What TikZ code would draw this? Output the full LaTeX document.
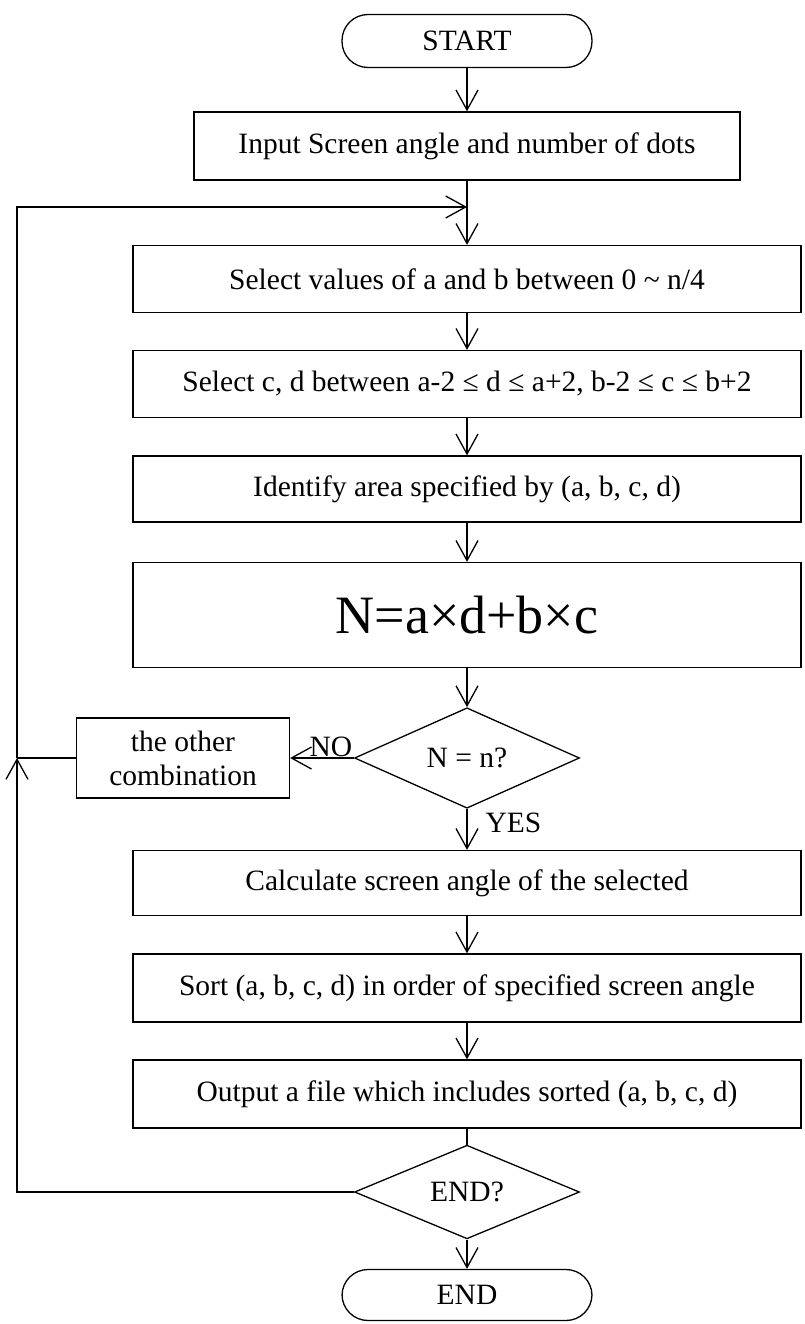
\documentclass[tikz,border=0pt]{standalone}
\usepackage{fontspec}
\setmainfont{Liberation Serif}
\usetikzlibrary{arrows.meta,shapes.geometric}

\begin{document}
\begin{tikzpicture}[x=1pt,y=-1pt, line width=1.3pt,
  font=\fontsize{29.5}{34}\selectfont,
  box/.style={draw, rectangle, inner sep=0pt, minimum height=67pt},
  wide/.style={box, minimum width=668pt},
  term/.style={draw, rectangle, rounded corners=26pt, inner sep=0pt, minimum width=250pt, minimum height=53pt},
  decide/.style={draw, diamond, inner sep=0pt, minimum width=225pt, minimum height=77pt},
  flow/.style={-{Straight Barb[length=20pt,width=22pt]}}]
\useasboundingbox (0,0) rectangle (804,1324);
\node[term] (start) at (467,41) {START};
\node[box, minimum width=546pt, minimum height=68pt] (input) at (467,146) {Input Screen angle and number of dots};
\node[wide] (sel1) at (467,279) {Select values of a and b between 0 \textasciitilde\ n/4};
\node[wide] (sel2) at (467,384) {Select c, d between a-2 ≤ d ≤ a+2, b-2 ≤ c ≤ b+2};
\node[wide, minimum height=66pt] (ident) at (467,489) {Identify area specified by (a, b, c, d)};
\node[wide, minimum height=105pt, font=\fontsize{54}{60}\selectfont] (nbox) at (467,615) {N=a×d+b×c};
\node[decide] (neq) at (467,758) {N = n?};
\node[box, minimum width=213pt, minimum height=80pt, align=center] (other) at (183,758) {the other\\combination};
\node[wide, minimum height=65pt] (calc) at (467,883) {Calculate screen angle of the selected};
\node[wide, minimum height=68pt] (sort) at (467,988) {Sort (a, b, c, d) in order of specified screen angle};
\node[wide, minimum height=68pt] (output) at (467,1094) {Output a file which includes sorted (a, b, c, d)};
\node[decide] (endq) at (467,1192) {END?};
\node[term, minimum height=51pt] (stop) at (467,1295) {END};
\node[anchor=south east, inner sep=1pt] (nolbl) at (neq.west) {NO};
\node[anchor=west, inner sep=0pt] (yeslbl) at (485,823) {YES};
\coordinate (lb) at (17,1192);
\coordinate (lm) at (17,758);
\coordinate (lt) at (17,207);
\coordinate (lj) at (467,207);
\draw[flow] (start) -- (input);
\draw[flow] (input) -- (sel1);
\draw[flow] (sel1) -- (sel2);
\draw[flow] (sel2) -- (ident);
\draw[flow] (ident) -- (nbox);
\draw[flow] (nbox) -- (neq);
\draw[flow] (neq) -- (calc);
\draw[flow] (calc) -- (sort);
\draw[flow] (sort) -- (output);
\draw (output) -- (endq);
\draw[flow] (endq) -- (stop);
\draw[flow] (neq) -- (other);
\draw (other) -- (lm);
\draw[flow] (endq) -- (lb) -- (lm);
\draw[flow] (lm) -- (lt) -- (lj);
\end{tikzpicture}
\end{document}
